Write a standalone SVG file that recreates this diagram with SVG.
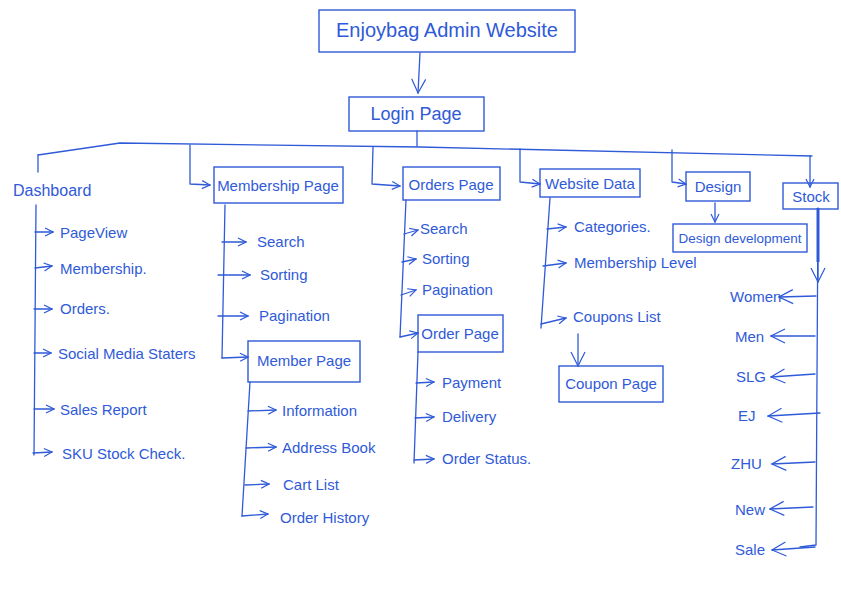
<svg xmlns="http://www.w3.org/2000/svg" width="841" height="595" viewBox="0 0 841 595">
<defs>
<style>
.ln{fill:none;stroke:#2f5ad8;stroke-width:1.3;stroke-linecap:round;stroke-linejoin:round}
.bx{fill:none;stroke:#2f5ad8;stroke-width:1.4}
.t{font-family:"Liberation Sans","DejaVu Sans",sans-serif;fill:#2f5ad8;font-size:15px}
.tb{font-family:"Liberation Sans","DejaVu Sans",sans-serif;fill:#2f5ad8;font-size:16px}
.thick{fill:none;stroke:#2f5ad8;stroke-width:3}
</style>
<marker id="ah" viewBox="0 0 10 10" refX="9" refY="5" markerWidth="10" markerHeight="10" markerUnits="userSpaceOnUse" orient="auto">
<path d="M1,1 L9,5 L1,9" fill="none" stroke="#2f5ad8" stroke-width="1.2"/>
</marker>
<marker id="ahl" viewBox="0 0 16 16" refX="15" refY="8" markerWidth="16" markerHeight="16" markerUnits="userSpaceOnUse" orient="auto">
<path d="M1,1 L15,8 L1,15" fill="none" stroke="#2f5ad8" stroke-width="1.2"/>
</marker>
</defs>
<rect width="841" height="595" fill="#ffffff"/>

<g id="connectors">
<path class="ln" d="M420,53 L418,93" marker-end="url(#ahl)"/>
<path class="ln" d="M417,131 L417,146"/>
<path class="ln" d="M38,155 L120,143 L420,147 L812,156"/>
<path class="ln" d="M38,155 L38,172"/>
<path class="ln" d="M190,145 L190,184 L210,185" marker-end="url(#ah)"/>
<path class="ln" d="M373,147 L372,184 L400,186" marker-end="url(#ah)"/>
<path class="ln" d="M520,149 L520,182 L540,184" marker-end="url(#ah)"/>
<path class="ln" d="M672,150 L672,182 L686,184" marker-end="url(#ah)"/>
<path class="ln" d="M810,156 L810,187" marker-end="url(#ah)"/>
<!-- Dashboard -->
<path class="ln" d="M36,205 L34,455"/>
<path class="ln" d="M35,232 L53,232" marker-end="url(#ah)"/>
<path class="ln" d="M35,268 L52,266" marker-end="url(#ah)"/>
<path class="ln" d="M34,309 L52,309" marker-end="url(#ah)"/>
<path class="ln" d="M34,353 L51,353" marker-end="url(#ah)"/>
<path class="ln" d="M34,409 L54,409" marker-end="url(#ah)"/>
<path class="ln" d="M33,453 L52,452" marker-end="url(#ah)"/>
<!-- Membership page -->
<path class="ln" d="M225,205 L222,358"/>
<path class="ln" d="M222,242 L246,242" marker-end="url(#ah)"/>
<path class="ln" d="M218,275 L250,275" marker-end="url(#ah)"/>
<path class="ln" d="M218,316 L248,316" marker-end="url(#ah)"/>
<path class="ln" d="M222,358 L248,357" marker-end="url(#ah)"/>
<!-- Member page -->
<path class="ln" d="M250,382 L242,516"/>
<path class="ln" d="M248,411 L276,410" marker-end="url(#ah)"/>
<path class="ln" d="M246,448 L276,447" marker-end="url(#ah)"/>
<path class="ln" d="M245,485 L269,484" marker-end="url(#ah)"/>
<path class="ln" d="M242,516 L268,514" marker-end="url(#ah)"/>
<!-- Orders page -->
<path class="ln" d="M406,200 L400,337"/>
<path class="ln" d="M404,234 L418,230" marker-end="url(#ah)"/>
<path class="ln" d="M402,262 L416,259" marker-end="url(#ah)"/>
<path class="ln" d="M401,295 L416,290" marker-end="url(#ah)"/>
<path class="ln" d="M400,337 L418,333" marker-end="url(#ah)"/>
<!-- Order page -->
<path class="ln" d="M418,352 L414,463"/>
<path class="ln" d="M416,383 L434,382" marker-end="url(#ah)"/>
<path class="ln" d="M415,418 L434,417" marker-end="url(#ah)"/>
<path class="ln" d="M414,460 L434,459" marker-end="url(#ah)"/>
<!-- Website data -->
<path class="ln" d="M550,198 L541,328"/>
<path class="ln" d="M547,229 L566,227" marker-end="url(#ah)"/>
<path class="ln" d="M543,266 L566,263" marker-end="url(#ah)"/>
<path class="ln" d="M541,324 L566,318" marker-end="url(#ah)"/>
<path class="ln" d="M578,334 L578,366" marker-end="url(#ahl)"/>
<!-- Design -->
<path class="ln" d="M715,203 L715,222" marker-end="url(#ah)"/>
<!-- Stock -->
<path class="thick" d="M818,208 L818,262"/>
<path class="ln" d="M818,208 L816,545 L800,547"/>
<path class="ln" d="M818,262 L818,282" marker-end="url(#ahl)"/>
<path class="ln" d="M816,296 L779,297" marker-end="url(#ahl)"/>
<path class="ln" d="M815,336 L771,336" marker-end="url(#ahl)"/>
<path class="ln" d="M815,374 L771,377" marker-end="url(#ahl)"/>
<path class="ln" d="M820,413 L768,416" marker-end="url(#ahl)"/>
<path class="ln" d="M815,462 L772,464" marker-end="url(#ahl)"/>
<path class="ln" d="M813,507 L770,509" marker-end="url(#ahl)"/>
<path class="ln" d="M815,547 L772,550" marker-end="url(#ahl)"/>
</g>

<g id="title"><rect class="bx" x="319" y="10" width="256" height="42"/><text class="t" x="447" y="37" style="font-size:20px" text-anchor="middle">Enjoybag Admin Website</text></g>
<g id="login"><rect class="bx" x="349" y="97" width="135" height="34"/><text class="t" x="416" y="120" style="font-size:18px" text-anchor="middle">Login Page</text></g>

<g id="dashboard"><text class="tb" x="13" y="196">Dashboard</text></g>
<g id="pageview"><text class="t" x="60" y="238">PageView</text></g>
<g id="membership"><text class="t" x="60" y="274">Membership.</text></g>
<g id="orders"><text class="t" x="60" y="314">Orders.</text></g>
<g id="social"><text class="t" x="58" y="359">Social Media Staters</text></g>
<g id="sales"><text class="t" x="60" y="415">Sales Report</text></g>
<g id="sku"><text class="t" x="62" y="459">SKU Stock Check.</text></g>

<g id="membershipPage"><rect class="bx" x="214" y="167" width="129" height="36"/><text class="t" x="278" y="191" text-anchor="middle">Membership Page</text></g>
<g id="mSearch"><text class="t" x="257" y="247">Search</text></g>
<g id="mSorting"><text class="t" x="260" y="280">Sorting</text></g>
<g id="mPagination"><text class="t" x="259" y="321">Pagination</text></g>
<g id="memberPage"><rect class="bx" x="248" y="341" width="112" height="41"/><text class="t" x="304" y="366" text-anchor="middle">Member Page</text></g>
<g id="info"><text class="t" x="282" y="416">Information</text></g>
<g id="address"><text class="t" x="282" y="453">Address Book</text></g>
<g id="cart"><text class="t" x="283" y="490">Cart List</text></g>
<g id="history"><text class="t" x="280" y="523">Order History</text></g>

<g id="ordersPage"><rect class="bx" x="403" y="167" width="97" height="33"/><text class="t" x="451" y="190" text-anchor="middle">Orders Page</text></g>
<g id="oSearch"><text class="t" x="420" y="234">Search</text></g>
<g id="oSorting"><text class="t" x="422" y="264">Sorting</text></g>
<g id="oPagination"><text class="t" x="422" y="295">Pagination</text></g>
<g id="orderPage"><rect class="bx" x="418" y="315" width="85" height="37"/><text class="t" x="460" y="339" text-anchor="middle">Order Page</text></g>
<g id="payment"><text class="t" x="442" y="388">Payment</text></g>
<g id="delivery"><text class="t" x="442" y="422">Delivery</text></g>
<g id="status"><text class="t" x="442" y="464">Order Status.</text></g>

<g id="websiteData"><rect class="bx" x="540" y="169" width="100" height="28"/><text class="t" x="590" y="189" text-anchor="middle">Website Data</text></g>
<g id="categories"><text class="t" x="574" y="232">Categories.</text></g>
<g id="memberLevel"><text class="t" x="574" y="268">Membership Level</text></g>
<g id="coupons"><text class="t" x="573" y="322">Coupons List</text></g>
<g id="couponPage"><rect class="bx" x="559" y="366" width="104" height="36"/><text class="t" x="611" y="389" text-anchor="middle">Coupon Page</text></g>

<g id="design"><rect class="bx" x="686" y="172" width="64" height="29"/><text class="t" x="718" y="192" text-anchor="middle">Design</text></g>
<g id="designDev"><rect class="bx" x="673" y="224" width="134" height="28"/><text class="t" x="740" y="243" style="font-size:13.5px" text-anchor="middle">Design development</text></g>

<g id="stock"><rect class="bx" x="783" y="183" width="55" height="26"/><text class="t" x="811" y="202" text-anchor="middle">Stock</text></g>
<g id="women"><text class="t" x="730" y="302">Women</text></g>
<g id="men"><text class="t" x="735" y="342">Men</text></g>
<g id="slg"><text class="t" x="736" y="382">SLG</text></g>
<g id="ej"><text class="t" x="738" y="421">EJ</text></g>
<g id="zhu"><text class="t" x="731" y="469">ZHU</text></g>
<g id="new"><text class="t" x="735" y="515">New</text></g>
<g id="sale"><text class="t" x="735" y="555">Sale</text></g>
</svg>
